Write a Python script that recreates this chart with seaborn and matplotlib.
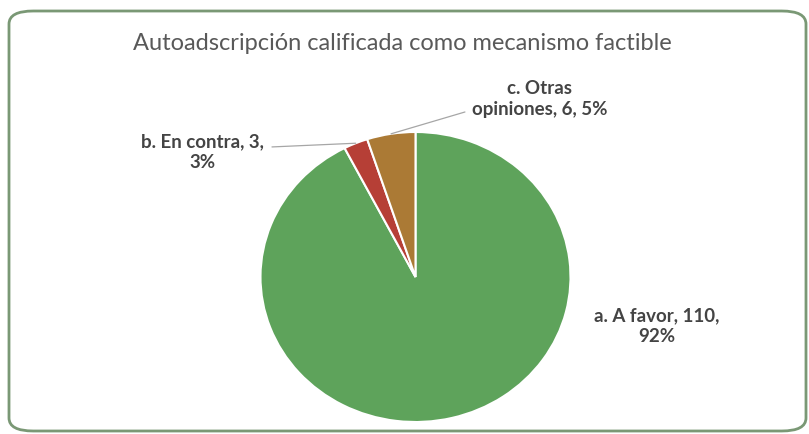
import numpy as np
import matplotlib
matplotlib.use("Agg")
import matplotlib.pyplot as plt
import seaborn as sns
from matplotlib.patches import FancyBboxPatch

sns.set_theme(style="white")
plt.rcParams['font.family'] = ['Lato', 'DejaVu Sans']

# ================== 数据 ==================
title = "Autoadscripción calificada como mecanismo factible"
categories = ["a. A favor", "b. En contra", "c. Otras opiniones"]
counts = [110, 3, 6]
percents = [92, 3, 5]
label_texts = ["a. A favor, 110,\n92%", "b. En contra, 3,\n3%", "c. Otras\nopiniones, 6, 5%"]
colors = ["#5ea35b", "#b63f36", "#ab7a35"]

# ================== 绘图 ==================
fig = plt.figure(figsize=(8.09, 4.34), dpi=100)
W, H = 809, 434

# 外框
frame = FancyBboxPatch((9 / W, 3 / H), 797 / W, 420 / H,
                       boxstyle="round,pad=0,rounding_size=0.03",
                       transform=fig.transFigure, fill=False,
                       edgecolor="#7a9875", linewidth=2)
fig.patches.append(frame)

fig.text(402 / W, 1 - 44 / H, title, ha="center", va="center",
         fontsize=17, color="#595959")

# 饼图所在的坐标轴（扫描图略扁，纵横比不等）
ax = fig.add_axes([260.5 / W, 1 - 422 / H, 310 / W, 290 / H])
wedges, _ = ax.pie(counts, colors=colors, startangle=90, counterclock=False,
                   wedgeprops=dict(edgecolor="white", linewidth=1.5))
ax.set_aspect("auto")
ax.set_xlim(-1, 1)
ax.set_ylim(-1, 1)
ax.axis("off")

# 标签位置（数据坐标）与引线端点
label_pos = [(1.558, -0.338), (-1.377, 0.862), (0.803, 1.228)]
line_end = [None, (-0.926, 0.897), (0.319, 1.138)]

for w, txt, pos, end in zip(wedges, label_texts, label_pos, line_end):
    ax.text(pos[0], pos[1], txt, ha="center", va="center", fontsize=13.5,
            fontweight="bold", color="#444444", linespacing=1.25)
    if end is not None:
        mid = np.deg2rad((w.theta1 + w.theta2) / 2)
        ax.plot([np.cos(mid), end[0]], [np.sin(mid), end[1]],
                color="#a6a6a6", linewidth=0.9, clip_on=False)

fig.savefig("out.png", dpi=100, facecolor="white")
